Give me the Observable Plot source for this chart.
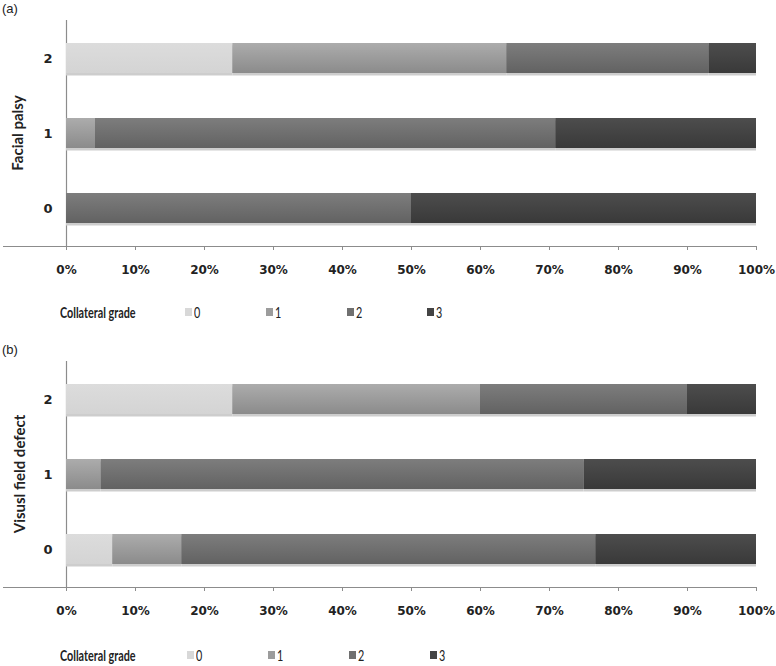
<!DOCTYPE html>
<html>
<head>
<meta charset="utf-8">
<script src="https://cdn.jsdelivr.net/npm/d3@7"></script>
<script src="https://cdn.jsdelivr.net/npm/@observablehq/plot@0.6"></script>
<style>
  html, body { margin: 0; padding: 0; background: #fff; }
  #root { position: relative; width: 776px; height: 666px; overflow: hidden; }
  .panel-label { position: absolute; left: 2px; font: 13px "Liberation Sans", Arial, sans-serif; color: #222; }
  .ytitle { position: absolute; font: bold 15px Lato, "Open Sans", sans-serif; color: #222; white-space: nowrap;
            transform: translate(-50%, -50%) rotate(-90deg); }
  .legend { position: absolute; left: 0; width: 776px; height: 18px; font-family: Lato, sans-serif; color: #222; }
  .legend .title { position: absolute; left: 60px; top: 0; font-weight: bold; font-size: 15px; transform-origin: left center; transform: scaleX(0.72); white-space: nowrap; }
  .legend .sw { position: absolute; top: 5px; width: 7px; height: 8px; }
  .legend .txt { position: absolute; top: 0; font-size: 15px; transform-origin: left center; transform: scaleX(0.72); }
</style>
</head>
<body>
<div id="root">
  <svg width="0" height="0" style="position:absolute">
    <defs id="grads"></defs>
  </svg>
</div>
<script>
// ---- data ----
const grades = ["0", "1", "2", "3"];
const rows = ["2", "1", "0"];
const xTicks = [0, 10, 20, 30, 40, 50, 60, 70, 80, 90, 100];

// Panel (a) Facial palsy: % of each collateral grade per row
const facialRow2 = [24.1, 39.7, 29.3, 6.9];
const facialRow1 = [0, 4.2, 66.7, 29.1];
const facialRow0 = [0, 0, 50.0, 50.0];

// Panel (b) Visual field defect
const visualRow2 = [24.1, 35.9, 30.0, 10.0];
const visualRow1 = [0, 5.0, 70.0, 25.0];
const visualRow0 = [6.7, 10.0, 60.0, 23.3];

const gradeTop = ["#dcdcdc", "#acacac", "#7d7d7d", "#4d4d4d"];
const gradeBottom = ["#d4d4d4", "#8b8b8b", "#626262", "#393939"];
const gradeSwatch = ["#d8d8d8", "#9c9c9c", "#707070", "#444444"];

// gradients
const defs = d3.select("#grads");
grades.forEach((g, i) => {
  const lg = defs.append("linearGradient").attr("id", "grad" + i)
    .attr("x1", 0).attr("y1", 0).attr("x2", 0).attr("y2", 1);
  lg.append("stop").attr("offset", "0%").attr("stop-color", gradeTop[i]);
  lg.append("stop").attr("offset", "100%").attr("stop-color", gradeBottom[i]);
});

function toTable(rowArrays) {
  const out = [];
  rows.forEach((r, ri) => {
    rowArrays[ri].forEach((v, gi) => out.push({row: r, grade: grades[gi], value: v}));
  });
  return out;
}

function makePanel(data, top, label, yTitle, titleX, legendTop, legendX) {
  const root = document.getElementById("root");
  const W = 776, H = 290, mt = 20, mb = 44, ml = 66, mr = 20;
  const chart = Plot.plot({
    width: W, height: H,
    marginTop: mt, marginBottom: mb, marginLeft: ml, marginRight: mr,
    style: {fontFamily: "DejaVu Sans, sans-serif", fontWeight: "bold", background: "transparent"},
    x: {domain: [0, 100], ticks: xTicks, tickFormat: d => d + "%"},
    y: {type: "band", domain: rows, paddingInner: 0.6, paddingOuter: 0.3},
    color: {domain: grades, range: grades.map((g, i) => `url(#grad${i})`)},
    marks: [
      Plot.ruleX([0], {stroke: "#8c8c8c", strokeWidth: 1.2}),
      Plot.barX(data, Plot.stackX({x: "value", y: "row", dy: 2.5, fill: "#cdcdcd"})),
      Plot.barX(data, Plot.stackX({x: "value", y: "row", fill: "grade"})),
      Plot.axisX({ticks: xTicks, tickFormat: d => d + "%", tickSize: 4, tickPadding: 15,
                  stroke: "#8c8c8c", fill: "#222", fontSize: 12, label: null}),
      Plot.axisY({tickSize: 0, tickPadding: 14, fill: "#222", fontSize: 13, label: null})
    ]
  });
  chart.style.position = "absolute";
  chart.style.left = "0px";
  chart.style.top = top + "px";
  // bottom axis line extending to the left edge
  d3.select(chart).append("line")
    .attr("x1", 3).attr("x2", W - mr)
    .attr("y1", H - mb + 0.5).attr("y2", H - mb + 0.5)
    .attr("stroke", "#8c8c8c").attr("stroke-width", 1.2);
  root.appendChild(chart);

  const pl = document.createElement("div");
  pl.className = "panel-label";
  pl.style.top = (top + 1) + "px";
  pl.textContent = label;
  root.appendChild(pl);

  const yt = document.createElement("div");
  yt.className = "ytitle";
  yt.style.left = titleX + "px";
  yt.style.top = (top + mt + (H - mt - mb) / 2) + "px";
  yt.textContent = yTitle;
  root.appendChild(yt);

  const lg = document.createElement("div");
  lg.className = "legend";
  lg.style.top = legendTop + "px";
  const t = document.createElement("div");
  t.className = "title";
  t.textContent = "Collateral grade";
  lg.appendChild(t);
  grades.forEach((g, i) => {
    const sw = document.createElement("div");
    sw.className = "sw";
    sw.style.left = legendX[i] + "px";
    sw.style.background = gradeSwatch[i];
    lg.appendChild(sw);
    const tx = document.createElement("div");
    tx.className = "txt";
    tx.style.left = (legendX[i] + 9) + "px";
    tx.textContent = g;
    lg.appendChild(tx);
  });
  root.appendChild(lg);
}

makePanel(toTable([facialRow2, facialRow1, facialRow0]), 0, "(a)", "Facial palsy", 17, 303, [185, 266, 347, 427]);
makePanel(toTable([visualRow2, visualRow1, visualRow0]), 341, "(b)", "Visusl field defect", 19, 646, [187, 268, 349, 430]);
</script>
</body>
</html>
